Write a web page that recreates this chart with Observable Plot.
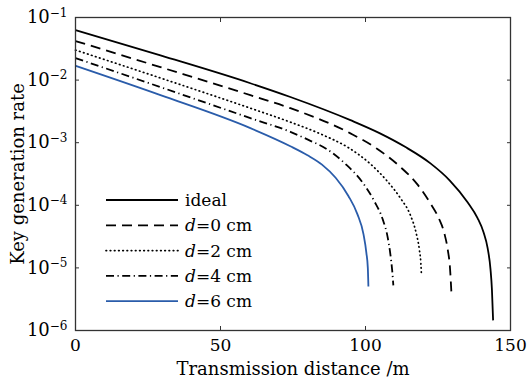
<!DOCTYPE html>
<html>
<head>
<meta charset="utf-8">
<script src="https://cdn.jsdelivr.net/npm/d3@7"></script>
<script src="https://cdn.jsdelivr.net/npm/@observablehq/plot@0.6"></script>
<style>
  html, body { margin: 0; padding: 0; background: #fff; }
  #chart { width: 527px; height: 381px; }
</style>
</head>
<body>
<div id="chart"></div>
<script>
// ---- data ----
const xTicks = [0, 50, 100, 150];
const yTicks = [1e-6, 1e-5, 1e-4, 1e-3, 1e-2, 1e-1];
const seriesNames = ["ideal", "d=0 cm", "d=2 cm", "d=4 cm", "d=6 cm"];

const distIdeal = [0, 29.3, 60.3, 74.1, 94.8, 105.0, 113.8, 122.4, 129.0, 135.2, 138.6, 140.7, 142.1, 143.1, 143.6, 144.0];
const rateIdeal = [6.31e-2, 2.48e-2, 8.91e-3, 5.37e-3, 2.29e-3, 1.41e-3, 8.51e-4, 4.68e-4, 2.51e-4, 1.12e-4, 6.31e-5, 3.72e-5, 2.09e-5, 9.55e-6, 4.47e-6, 1.45e-6];

const distD0 = [0, 29.3, 60.3, 74.1, 94.8, 104.1, 112.1, 117.6, 122.4, 125.3, 127.2, 128.4, 129.1, 129.7];
const rateD0 = [4.21e-2, 1.61e-2, 5.75e-3, 3.56e-3, 1.41e-3, 7.94e-4, 4.07e-4, 2.24e-4, 1.07e-4, 6.17e-5, 3.55e-5, 1.91e-5, 1.05e-5, 3.39e-6];

const distD2 = [0, 29.3, 60.3, 74.1, 84.5, 94.1, 101.7, 107.6, 112.1, 115.5, 117.4, 118.6, 119.1, 119.3];
const rateD2 = [3.02e-2, 1.08e-2, 3.56e-3, 2.13e-3, 1.38e-3, 8.32e-4, 4.57e-4, 2.40e-4, 1.29e-4, 6.92e-5, 3.72e-5, 1.91e-5, 1.17e-5, 7.59e-6];

const distD4 = [0, 29.3, 60.3, 74.1, 80.5, 86.6, 93.1, 98.6, 103.1, 105.9, 107.6, 108.6, 109.2, 109.6];
const rateD4 = [2.25e-2, 7.73e-3, 2.47e-3, 1.49e-3, 1.10e-3, 7.94e-4, 4.57e-4, 2.45e-4, 1.15e-4, 6.03e-5, 3.16e-5, 1.62e-5, 9.12e-6, 5.25e-6];

const distD6 = [0, 29.3, 60.3, 74.1, 80.0, 85.0, 89.7, 94.1, 97.2, 99.3, 100.3, 100.8, 101.0];
const rateD6 = [1.69e-2, 5.75e-3, 1.71e-3, 8.79e-4, 6.31e-4, 4.47e-4, 2.75e-4, 1.41e-4, 7.24e-5, 3.47e-5, 1.74e-5, 1.0e-5, 5.06e-6];

// ---- styles ----
const seriesStyles = [
  {stroke: "#000", dash: null, width: 1.8, cap: "butt"},
  {stroke: "#000", dash: "10,6", width: 1.8, cap: "butt"},
  {stroke: "#000", dash: "0.6,3.6", width: 1.7, cap: "round"},
  {stroke: "#000", dash: "8,3.5,1.2,3.5", width: 1.8, cap: "butt"},
  {stroke: "#2a5caa", dash: null, width: 1.8, cap: "butt"}
];

const dists = [distIdeal, distD0, distD2, distD4, distD6];
const rates = [rateIdeal, rateD0, rateD2, rateD4, rateD6];
const tables = dists.map((ds, i) => ds.map((d, j) => ({d, r: rates[i][j]})));

const FONT = "'DejaVu Serif', 'Liberation Serif', serif";

const lineMarks = tables.map((t, i) => Plot.line(t, {
  x: "d", y: "r", curve: "monotone-x",
  stroke: seriesStyles[i].stroke,
  strokeWidth: seriesStyles[i].width,
  strokeDasharray: seriesStyles[i].dash,
  strokeLinecap: seriesStyles[i].cap
}));

const chart = Plot.plot({
  width: 527, height: 381,
  marginLeft: 75, marginRight: 17, marginTop: 17, marginBottom: 51,
  style: {fontFamily: FONT, fontSize: "17px", background: "#fff", color: "#000", overflow: "visible"},
  x: {domain: [0, 150]},
  y: {type: "log", domain: [1e-6, 1e-1]},
  marks: [
    ...lineMarks,
    Plot.frame({stroke: "#333", strokeWidth: 1.3}),
    // labels
    Plot.axisX(xTicks, {anchor: "bottom", tickSize: 0, tickPadding: 8, label: null, fontSize: 17}),
    Plot.axisY(yTicks, {anchor: "left", tickSize: 0, tickPadding: 8, label: null, fontSize: 18,
      tickFormat: d => String(Math.round(Math.log10(d)))}),
    // inward ticks
    Plot.axisX(xTicks, {anchor: "bottom", tickSize: -4, fill: "none", label: null, stroke: "#333"}),
    Plot.axisX(xTicks, {anchor: "top", tickSize: -4, fill: "none", label: null, stroke: "#333"}),
    Plot.axisY(yTicks, {anchor: "left", tickSize: -4, fill: "none", label: null, stroke: "#333"}),
    Plot.axisY(yTicks, {anchor: "right", tickSize: -4, fill: "none", label: null, stroke: "#333"}),
    // axis titles
    Plot.text(["Transmission distance /m"], {frameAnchor: "bottom", lineAnchor: "middle", dy: 39, fontSize: 18}),
    Plot.text(["Key generation rate"], {frameAnchor: "left", textAnchor: "middle", dx: -57, rotate: -90, fontSize: 18})
  ]
});

document.getElementById("chart").appendChild(chart);

// superscripts for the log tick labels
const svg = d3.select(chart);
svg.selectAll('[aria-label="y-axis tick label"] text').each(function() {
  const t = d3.select(this);
  const e = t.text().replace("-", "\u2212");
  t.text(null);
  t.append("tspan").text("10");
  t.append("tspan").attr("dy", "-0.55em").attr("font-size", "12px").text(e);
});

// legend
const lg = svg.append("g").attr("font-family", FONT).attr("font-size", 17).attr("text-anchor", "start");
seriesNames.forEach((name, i) => {
  const y = 200 + i * 25.3;
  const s = seriesStyles[i];
  lg.append("line").attr("x1", 106).attr("x2", 178).attr("y1", y).attr("y2", y)
    .attr("stroke", s.stroke).attr("stroke-width", s.width)
    .attr("stroke-dasharray", s.dash).attr("stroke-linecap", s.cap);
  const t = lg.append("text").attr("x", 185).attr("y", y).attr("dy", "0.35em");
  if (name.startsWith("d=")) {
    t.append("tspan").attr("font-style", "italic").text("d");
    t.append("tspan").text(name.slice(1));
  } else {
    t.text(name);
  }
});
</script>
</body>
</html>
